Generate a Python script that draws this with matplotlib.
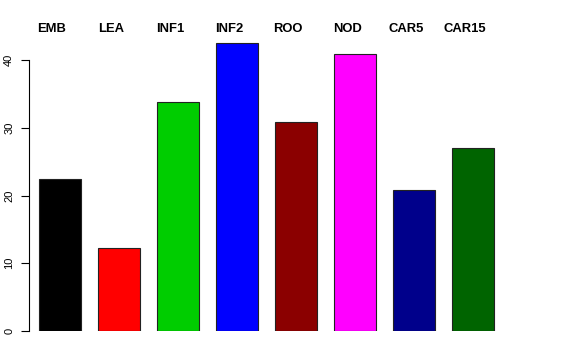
import matplotlib
matplotlib.use("Agg")
import matplotlib.pyplot as plt

plt.rcParams['font.family'] = ['Liberation Sans', 'DejaVu Sans']

tissues = ["EMB", "LEA", "INF1", "INF2", "ROO", "NOD", "CAR5", "CAR15"]
values = [22.4, 12.3, 33.8, 42.5, 30.8, 40.9, 20.9, 27.0]
colors = ["#000000", "#FF0000", "#00CD00", "#0000FF", "#8B0000", "#FF00FF", "#00008B", "#006400"]

W, H = 576, 360
fig = plt.figure(figsize=(W / 100, H / 100), dpi=100)
# axes in pixel coordinates: left 29, bottom 331, top 40
left, right, bottom, top = 29, 536, 331, 40
ax = fig.add_axes([left / W, 1 - bottom / H, (right - left) / W, (bottom - top) / H])

pos = list(range(len(tissues)))
ax.bar(pos, values, width=0.712, color=colors, edgecolor="#222222", linewidth=0.8)

px_per_unit = 59.0
ax.set_xlim(-(60 - left) / px_per_unit, -(60 - left) / px_per_unit + (right - left) / px_per_unit)
ax.set_ylim(0, (bottom - top) / 6.77)

# labels above the bars, shifted a bit left like the original
for p, t in zip(pos, tissues):
    ax.text(p - 8 / px_per_unit, (bottom - 29.5) / 6.77, t, ha="center", va="center",
            fontsize=9.4, fontweight="bold", clip_on=False)

for s in ["top", "right", "bottom"]:
    ax.spines[s].set_visible(False)
ax.spines["left"].set_bounds(0, 40)
ax.spines["left"].set_linewidth(0.8)
ax.set_xticks([])
ax.set_yticks([0, 10, 20, 30, 40])
ax.tick_params(axis="y", length=5.7, width=0.8, pad=5, labelsize=8)
for lab in ax.get_yticklabels():
    lab.set_rotation(90)
    lab.set_va("center")

fig.savefig("out.png", dpi=100)
